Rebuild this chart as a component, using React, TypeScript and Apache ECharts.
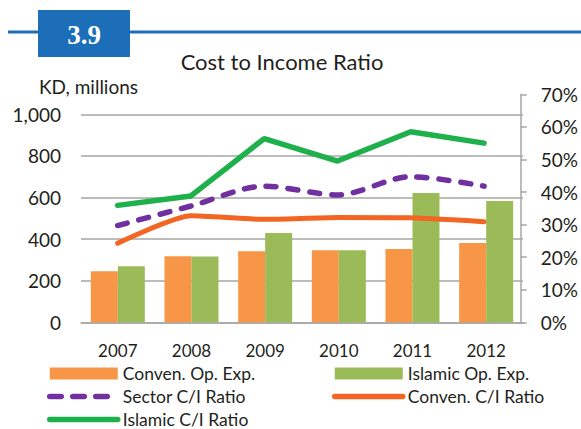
import React, { useEffect, useRef } from "react";
import * as echarts from "echarts";

const years = ["2007", "2008", "2009", "2010", "2011", "2012"];
const convenOpExp = [245, 317, 341, 346, 352, 381];
const islamicOpExp = [269, 316, 429, 346, 622, 583];
const sectorCI = [29.7, 35.7, 41.8, 39.1, 44.7, 41.8];
const convenCI = [24.3, 32.7, 31.6, 32.2, 32.1, 30.9];
const islamicCI = [35.9, 38.8, 56.4, 49.5, 58.5, 55.0];

const FONT = "Lato";
const TEXT = "#231F20";
const GRID_GRAY = "#A6A6A6";

export default function App() {
  const ref = useRef<HTMLDivElement>(null);
  useEffect(() => {
    document.body.style.margin = "0";
    if (!ref.current) return;
    const chart = echarts.init(ref.current, null, { renderer: "svg" });
    const hiddenSymbol = { opacity: 0 };
    const legendCommon = {
      orient: "vertical",
      top: 364,
      itemWidth: 68,
      itemHeight: 12,
      itemGap: 4,
      padding: 0,
      selectedMode: false,
      textStyle: { fontFamily: FONT, fontSize: 17.5, color: TEXT, lineHeight: 19 },
      lineStyle: { width: 5.5 },
    };
    const option: any = {
      animation: false,
      backgroundColor: "#ffffff",
      textStyle: { fontFamily: FONT, color: TEXT },
      title: [
        {
          text: "Cost to Income Ratio",
          left: 282,
          top: 50,
          padding: 0,
          textAlign: "center",
          textStyle: { fontFamily: FONT, fontSize: 22, fontWeight: "normal", color: TEXT },
        },
        {
          text: "KD, millions",
          left: 39,
          top: 77,
          padding: 0,
          textStyle: { fontFamily: FONT, fontSize: 19, fontWeight: "normal", color: TEXT },
        },
      ],
      graphic: [
        { type: "rect", shape: { x: 8, y: 30.5, width: 573, height: 3 }, style: { fill: "#1B6EB7" } },
        { type: "rect", shape: { x: 38, y: 10, width: 92, height: 47 }, style: { fill: "#1B6EB7" } },
        {
          type: "text",
          x: 84,
          y: 35,
          style: {
            text: "3.9",
            fill: "#ffffff",
            font: "bold 27px 'Liberation Serif'",
            align: "center",
            verticalAlign: "middle",
          },
        },
      ],
      legend: [
        {
          ...legendCommon,
          left: 47,
          data: [
            { name: "Conven. Op. Exp.", icon: "rect" },
            {
              name: "Sector C/I Ratio",
              itemStyle: hiddenSymbol,
              lineStyle: { width: 5.5, type: [11.5, 11.5], cap: "round" },
            },
            { name: "Islamic C/I Ratio", itemStyle: hiddenSymbol },
          ],
        },
        {
          ...legendCommon,
          left: 332,
          data: [
            { name: "Islamic Op. Exp.", icon: "rect" },
            { name: "Conven. C/I Ratio", itemStyle: hiddenSymbol },
          ],
        },
      ],
      grid: [
        { left: 81, right: 58, top: 114.3, bottom: 106.7 },
        { left: 81, right: 58, top: 94.3, bottom: 106.7 },
      ],
      xAxis: [
        {
          type: "category",
          gridIndex: 0,
          data: years,
          axisLine: { lineStyle: { color: GRID_GRAY, width: 1.5 } },
          axisTick: { show: false },
          axisLabel: { fontFamily: FONT, fontSize: 17, color: TEXT, margin: 20 },
        },
        {
          type: "category",
          gridIndex: 1,
          data: years,
          show: false,
        },
      ],
      yAxis: [
        {
          type: "value",
          gridIndex: 0,
          position: "left",
          min: 0,
          max: 1000,
          interval: 200,
          axisLine: { show: false },
          axisTick: { show: false },
          splitLine: { lineStyle: { color: GRID_GRAY, width: 1.5 } },
          axisLabel: {
            fontFamily: FONT,
            fontSize: 19,
            color: TEXT,
            margin: 20,
            formatter: (v: number) => v.toLocaleString("en-US"),
          },
        },
        {
          type: "value",
          gridIndex: 1,
          position: "right",
          min: 0,
          max: 70,
          interval: 10,
          axisLine: { show: true, lineStyle: { color: GRID_GRAY, width: 1.5 } },
          axisTick: { show: true, inside: false, length: 6, lineStyle: { color: GRID_GRAY, width: 1.5 } },
          splitLine: { show: false },
          axisLabel: { fontFamily: FONT, fontSize: 19, color: TEXT, margin: 20, formatter: "{value}%" },
        },
      ],
      series: [
        {
          name: "Conven. Op. Exp.",
          type: "bar",
          xAxisIndex: 0,
          yAxisIndex: 0,
          data: convenOpExp,
          barWidth: 27,
          barGap: "0%",
          itemStyle: { color: "#F79646" },
        },
        {
          name: "Islamic Op. Exp.",
          type: "bar",
          xAxisIndex: 0,
          yAxisIndex: 0,
          data: islamicOpExp,
          barWidth: 27,
          barGap: "0%",
          itemStyle: { color: "#9BBB59" },
        },
        {
          name: "Sector C/I Ratio",
          type: "line",
          xAxisIndex: 1,
          yAxisIndex: 1,
          data: sectorCI,
          symbol: "none",
          smooth: 0.3,
          itemStyle: { color: "#7030A0" },
          lineStyle: { color: "#7030A0", width: 5.5, type: [10, 12], cap: "round" },
        },
        {
          name: "Conven. C/I Ratio",
          type: "line",
          xAxisIndex: 1,
          yAxisIndex: 1,
          data: convenCI,
          symbol: "none",
          smooth: 0.2,
          itemStyle: { color: "#F26522" },
          lineStyle: { color: "#F26522", width: 5, cap: "round" },
        },
        {
          name: "Islamic C/I Ratio",
          type: "line",
          xAxisIndex: 1,
          yAxisIndex: 1,
          data: islamicCI,
          symbol: "none",
          itemStyle: { color: "#1DB04B" },
          lineStyle: { color: "#1DB04B", width: 5.5, cap: "round" },
        },
      ],
    };
    chart.setOption(option);
    return () => chart.dispose();
  }, []);
  return <div ref={ref} style={{ width: 581, height: 429 }} />;
}
